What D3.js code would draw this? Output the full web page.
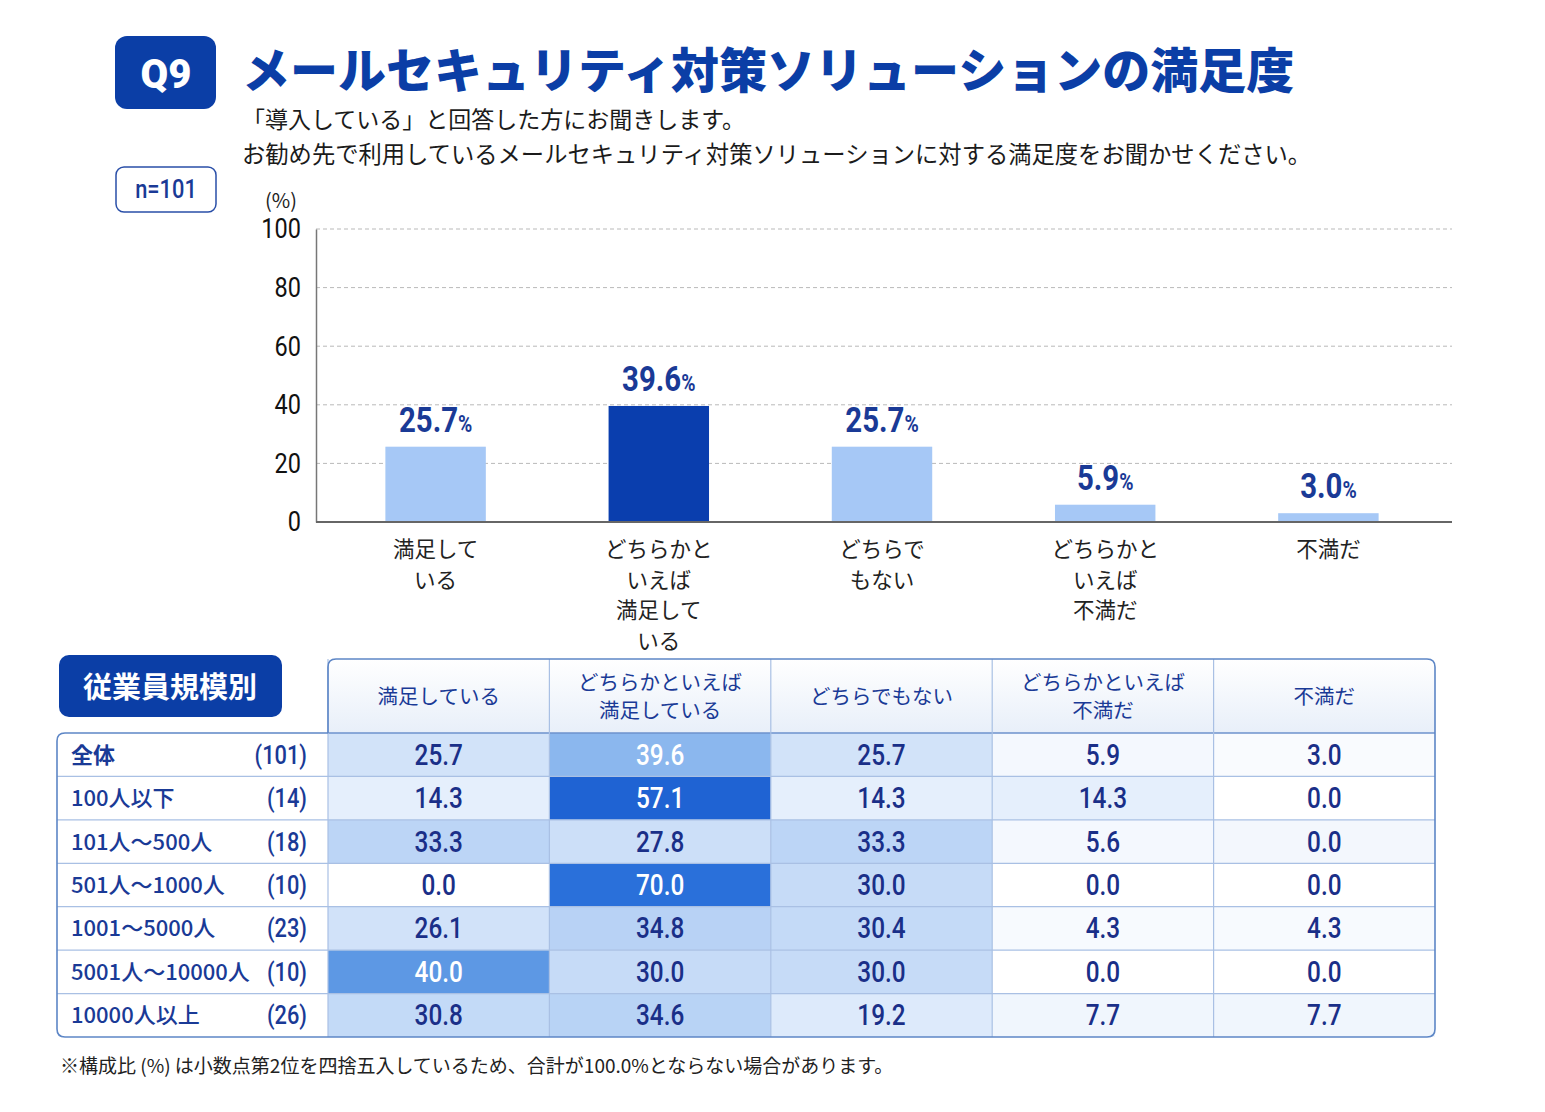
<!DOCTYPE html>
<html>
<head>
<meta charset="utf-8">
<script src="https://cdn.jsdelivr.net/npm/d3@7"></script>
<style>
  body { margin: 0; background: #fff; }
  svg { display: block; }
  .jp { font-family: "Noto Sans CJK JP", "Noto Sans", sans-serif; }
  .num { font-family: "Roboto", "Noto Sans", sans-serif; }
</style>
</head>
<body>
<svg id="chart" width="1545" height="1112"></svg>
<script>
// ---- data ----
var categories = ['満足している', 'どちらかといえば満足している', 'どちらでもない', 'どちらかといえば不満だ', '不満だ'];
var barLabels = [['満足して', 'いる'], ['どちらかと', 'いえば', '満足して', 'いる'], ['どちらで', 'もない'], ['どちらかと', 'いえば', '不満だ'], ['不満だ']];
var headerLabels = [['満足している'], ['どちらかといえば', '満足している'], ['どちらでもない'], ['どちらかといえば', '不満だ'], ['不満だ']];
var overall = [25.7, 39.6, 25.7, 5.9, 3.0];
var yTicks = [0, 20, 40, 60, 80, 100];

var segments = ['全体', '100人以下', '101人～500人', '501人～1000人', '1001～5000人', '5001人～10000人', '10000人以上'];
var counts = [101, 14, 18, 10, 23, 10, 26];
var tableValues = [
  [25.7, 39.6, 25.7, 5.9, 3.0],
  [14.3, 57.1, 14.3, 14.3, 0.0],
  [33.3, 27.8, 33.3, 5.6, 0.0],
  [0.0, 70.0, 30.0, 0.0, 0.0],
  [26.1, 34.8, 30.4, 4.3, 4.3],
  [40.0, 30.0, 30.0, 0.0, 0.0],
  [30.8, 34.6, 19.2, 7.7, 7.7]
];

var navy = '#0b3ea6';
var textBlue = '#1a3a96';
var narrow = 0.84; // digits in the original are condensed

var svg = d3.select('#chart');

// ---- header ----
svg.append('rect').attr('x', 115).attr('y', 36).attr('width', 101).attr('height', 73)
  .attr('rx', 12).attr('fill', navy);
svg.append('text').attr('x', 166).attr('y', 88).attr('text-anchor', 'middle')
  .attr('fill', '#fff').style('font-family', 'Roboto, sans-serif').style('font-weight', 900)
  .style('font-size', '40px').text('Q9');

svg.append('text').attr('class', 'jp').attr('x', 242).attr('y', 88)
  .attr('fill', navy).style('font-weight', 900).style('font-size', '48px')
  .text('メールセキュリティ対策ソリューションの満足度');

svg.append('text').attr('class', 'jp').attr('x', 242).attr('y', 128)
  .attr('fill', '#1b1b1b').style('font-size', '23px')
  .text('「導入している」と回答した方にお聞きします。');
svg.append('text').attr('class', 'jp').attr('x', 242).attr('y', 163)
  .attr('fill', '#1b1b1b').style('font-size', '23.3px')
  .text('お勧め先で利用しているメールセキュリティ対策ソリューションに対する満足度をお聞かせください。');

svg.append('rect').attr('x', 116).attr('y', 167).attr('width', 100).attr('height', 45)
  .attr('rx', 8).attr('fill', '#fff').attr('stroke', '#2a4fa8').attr('stroke-width', 1.5);
svg.append('text').attr('class', 'num')
  .attr('transform', 'translate(166,198) scale(' + narrow + ',1)').attr('text-anchor', 'middle')
  .attr('fill', textBlue).style('font-size', '26px').style('font-weight', 500).text('n=101');

// ---- bar chart ----
var plotLeft = 316, plotRight = 1452, plotTop = 229, plotBottom = 522;

var x = d3.scaleBand().domain(categories).range([324, 1440]).paddingInner(0.55).paddingOuter(0.275);
var y = d3.scaleLinear().domain([0, 100]).range([plotBottom, plotTop]);

svg.append('text').attr('class', 'jp').attr('x', 281).attr('y', 208).attr('text-anchor', 'middle')
  .attr('fill', '#222').style('font-size', '20px').text('(%)');

var grid = svg.append('g');
grid.selectAll('line').data(yTicks.filter(function (t) { return t > 0; })).enter().append('line')
  .attr('x1', plotLeft).attr('x2', plotRight)
  .attr('y1', function (d) { return y(d); }).attr('y2', function (d) { return y(d); })
  .attr('stroke', '#b9b9b9').attr('stroke-dasharray', '4,3');

var yAxis = svg.append('g').attr('transform', 'translate(' + plotLeft + ',0)')
  .call(d3.axisLeft(y).tickValues(yTicks).tickSize(0).tickPadding(15));
yAxis.select('.domain').attr('stroke', '#777').attr('stroke-width', 1.5);
yAxis.selectAll('text').attr('class', 'num').attr('fill', '#111').style('font-size', '28px')
  .attr('transform', 'scale(' + narrow + ',1)')
  .attr('x', -15 / narrow);

var maxVal = d3.max(overall);

svg.append('g').selectAll('rect').data(overall).enter().append('rect')
  .attr('x', function (d, i) { return x(categories[i]); })
  .attr('width', x.bandwidth())
  .attr('y', function (d) { return y(d); })
  .attr('height', function (d) { return y(0) - y(d); })
  .attr('fill', function (d) { return d === maxVal ? '#0a3eae' : '#a6c8f6'; });

svg.append('line').attr('x1', plotLeft).attr('x2', plotRight).attr('y1', plotBottom).attr('y2', plotBottom)
  .attr('stroke', '#666').attr('stroke-width', 2);

var valLabels = svg.append('g').selectAll('text').data(overall).enter().append('text')
  .attr('class', 'num')
  .attr('transform', function (d, i) {
    return 'translate(' + (x(categories[i]) + x.bandwidth() / 2) + ',' + (y(d) - 15) + ') scale(' + narrow + ',1)';
  })
  .attr('text-anchor', 'middle').attr('fill', textBlue).style('font-weight', 700);
valLabels.append('tspan').style('font-size', '35px').text(function (d) { return d.toFixed(1); });
valLabels.append('tspan').style('font-size', '23px').text('%');

var catG = svg.append('g').selectAll('text').data(barLabels).enter().append('text')
  .attr('class', 'jp')
  .attr('x', function (d, i) { return x(categories[i]) + x.bandwidth() / 2; })
  .attr('y', 557).attr('text-anchor', 'middle').attr('fill', '#222').style('font-size', '21.5px');
catG.selectAll('tspan').data(function (d) { return d; }).enter().append('tspan')
  .attr('x', function () { return d3.select(this.parentNode).attr('x'); })
  .attr('dy', function (d, i) { return i === 0 ? 0 : 30.5; })
  .text(function (d) { return d; });

// ---- table ----
var tLeft = 57, tLabelRight = 328, tRight = 1435, headTop = 659, headBottom = 733, tBottom = 1037;

var col = d3.scaleBand().domain(categories).range([tLabelRight, tRight]);
var row = d3.scaleBand().domain(segments).range([headBottom, tBottom]);

var cellColor = d3.scaleLinear()
  .domain([0, 10, 25, 35, 39.7, 40, 57, 70])
  .range(['#ffffff', '#ecf3fd', '#d4e4f9', '#b7d2f5', '#8ab6ee', '#5d98e4', '#1f63d3', '#2a70da'])
  .clamp(true);

var defs = svg.append('defs');
var hg = defs.append('linearGradient').attr('id', 'headGrad').attr('x1', 0).attr('x2', 0).attr('y1', 0).attr('y2', 1);
hg.append('stop').attr('offset', '0%').attr('stop-color', '#ffffff');
hg.append('stop').attr('offset', '100%').attr('stop-color', '#e8eff9');

// label box
svg.append('rect').attr('x', 59).attr('y', 655).attr('width', 223).attr('height', 62)
  .attr('rx', 10).attr('fill', navy);
svg.append('text').attr('class', 'jp').attr('x', 170).attr('y', 698).attr('text-anchor', 'middle')
  .attr('fill', '#fff').style('font-weight', 700).style('font-size', '29px').text('従業員規模別');

// header cells
svg.append('path')
  .attr('d', 'M' + tLabelRight + ',' + headBottom + 'V' + (headTop + 8) + 'Q' + tLabelRight + ',' + headTop + ' ' + (tLabelRight + 8) + ',' + headTop +
    'H' + (tRight - 8) + 'Q' + tRight + ',' + headTop + ' ' + tRight + ',' + (headTop + 8) + 'V' + headBottom + 'Z')
  .attr('fill', 'url(#headGrad)');

var head = svg.append('g').selectAll('text').data(headerLabels).enter().append('text')
  .attr('class', 'jp')
  .attr('x', function (d, i) { return col(categories[i]) + col.bandwidth() / 2; })
  .attr('y', function (d) { return d.length === 1 ? 704 : 690; })
  .attr('text-anchor', 'middle').attr('fill', textBlue).style('font-size', '20.5px');
head.selectAll('tspan').data(function (d) { return d; }).enter().append('tspan')
  .attr('x', function () { return d3.select(this.parentNode).attr('x'); })
  .attr('dy', function (d, i) { return i === 0 ? 0 : 28; })
  .text(function (d) { return d; });

// body rows
var rows = svg.append('g').selectAll('g').data(tableValues).enter().append('g')
  .attr('transform', function (d, i) { return 'translate(0,' + row(segments[i]) + ')'; });

rows.append('rect').attr('x', tLeft).attr('width', tLabelRight - tLeft).attr('height', row.bandwidth())
  .attr('fill', '#fff');

rows.selectAll('rect.cell').data(function (d, ri) { return d.map(function (v) { return { v: v, r: ri }; }); })
  .enter().append('rect').attr('class', 'cell')
  .attr('x', function (d, i) { return col(categories[i]); })
  .attr('width', col.bandwidth()).attr('height', row.bandwidth())
  .attr('fill', function (d) {
    if (d.v === 0) return d.r % 2 === 0 ? '#f3f7fd' : '#ffffff';
    return cellColor(d.v);
  });

rows.append('text').attr('class', 'jp').attr('x', 71).attr('y', row.bandwidth() / 2 + 8)
  .attr('fill', textBlue).style('font-size', '22px')
  .style('font-weight', function (d, i) { return i === 0 ? 700 : 500; })
  .text(function (d, i) { return segments[i]; });
rows.append('text').attr('class', 'num')
  .attr('transform', 'translate(307,' + (row.bandwidth() / 2 + 9) + ') scale(' + narrow + ',1)')
  .attr('text-anchor', 'end').attr('fill', textBlue).style('font-size', '26px').style('font-weight', 500)
  .text(function (d, i) { return '(' + counts[i] + ')'; });

rows.selectAll('text.val').data(function (d) { return d; }).enter().append('text').attr('class', 'num val')
  .attr('transform', function (d, i) {
    return 'translate(' + (col(categories[i]) + col.bandwidth() / 2) + ',' + (row.bandwidth() / 2 + 10) + ') scale(' + narrow + ',1)';
  })
  .attr('text-anchor', 'middle').style('font-size', '29px').style('font-weight', 500)
  .attr('fill', function (d) { return d >= 39 ? '#ffffff' : '#1a2f88'; })
  .text(function (d) { return d.toFixed(1); });

// grid lines
var lines = svg.append('g').attr('stroke', '#a9c0e4').attr('stroke-width', 1.2);
segments.slice(1).forEach(function (s) {
  lines.append('line').attr('x1', tLeft).attr('x2', tRight).attr('y1', row(s)).attr('y2', row(s));
});
lines.append('line').attr('x1', tLabelRight).attr('x2', tRight).attr('y1', headBottom).attr('y2', headBottom)
  .attr('stroke', '#6d92cc').attr('stroke-width', 1.5);
categories.forEach(function (c) {
  lines.append('line').attr('x1', col(c)).attr('x2', col(c)).attr('y1', headTop).attr('y2', tBottom);
});

// outer borders
svg.append('path')
  .attr('d', 'M' + tLabelRight + ',' + headBottom + 'V' + (headTop + 8) + 'Q' + tLabelRight + ',' + headTop + ' ' + (tLabelRight + 8) + ',' + headTop +
    'H' + (tRight - 8) + 'Q' + tRight + ',' + headTop + ' ' + tRight + ',' + (headTop + 8) + 'V' + (tBottom - 8) +
    'Q' + tRight + ',' + tBottom + ' ' + (tRight - 8) + ',' + tBottom + 'H' + (tLeft + 8) +
    'Q' + tLeft + ',' + tBottom + ' ' + tLeft + ',' + (tBottom - 8) + 'V' + (headBottom + 8) +
    'Q' + tLeft + ',' + headBottom + ' ' + (tLeft + 8) + ',' + headBottom + 'H' + tLabelRight)
  .attr('fill', 'none').attr('stroke', '#5d86c6').attr('stroke-width', 1.6);

// footnote
svg.append('text').attr('class', 'jp').attr('x', 60).attr('y', 1073)
  .attr('fill', '#222').style('font-size', '19px')
  .text('※構成比 (%) は小数点第2位を四捨五入しているため、合計が100.0%とならない場合があります。');
</script>
</body>
</html>
